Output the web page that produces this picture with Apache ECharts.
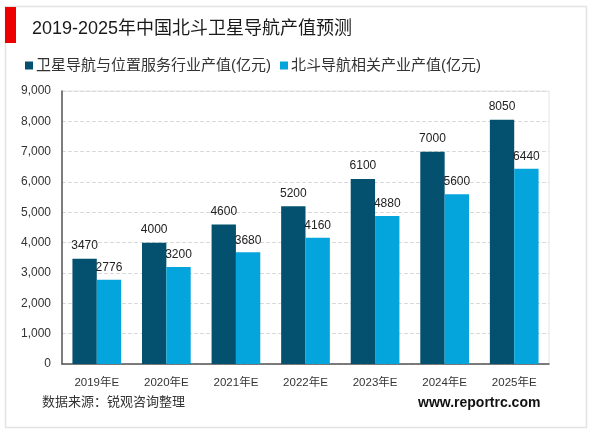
<!DOCTYPE html>
<html>
<head>
<meta charset="utf-8">
<style>html,body{margin:0;padding:0;background:#fff}#chart{width:600px;height:433px}</style>
<script src="https://cdn.jsdelivr.net/npm/echarts@6/dist/echarts.min.js"></script>
</head>
<body>
<div id="chart"></div>
<script>
var categories = ['2019年E', '2020年E', '2021年E', '2022年E', '2023年E', '2024年E', '2025年E'];
var navOutput = [3470, 4000, 4600, 5200, 6100, 7000, 8050];
var beidouOutput = [2776, 3200, 3680, 4160, 4880, 5600, 6440];
var seriesNames = ['卫星导航与位置服务行业产值(亿元)', '北斗导航相关产业产值(亿元)'];

var font = '"Liberation Sans","Noto Sans CJK SC",sans-serif';
var myChart = echarts.init(document.getElementById('chart'));

var option = {
	animation: false,
	backgroundColor: '#fff',
	color: ['#03516f', '#04a5dc'],
	textStyle: {fontFamily: font},
	title: {
		text: '2019-2025年中国北斗卫星导航产值预测',
		left: 27,
		top: 15,
		textStyle: {fontSize: 18, fontWeight: 'normal', color: '#1a1a1a', fontFamily: font}
	},
	legend: {
		left: 20,
		top: 53,
		itemWidth: 8,
		itemHeight: 8,
		itemGap: 9,
		icon: 'rect',
		textStyle: {fontSize: 15, color: '#333', padding: [0, 0, 0, -2], fontFamily: font}
	},
	grid: {left: 62, right: 51, top: 91, bottom: 69, show: true, borderColor: '#e4e4e4', borderWidth: 1},
	xAxis: {
		type: 'category',
		data: categories,
		axisLine: {lineStyle: {color: '#555', width: 1.5}},
		axisTick: {show: false},
		axisLabel: {fontSize: 11.5, color: '#333', margin: 13, fontFamily: font}
	},
	yAxis: {
		type: 'value',
		min: 0,
		max: 9000,
		interval: 1000,
		axisLine: {show: true, lineStyle: {color: '#555', width: 1.5}},
		axisTick: {show: false},
		axisLabel: {fontSize: 12, color: '#333', margin: 11, fontFamily: font},
		splitLine: {lineStyle: {color: '#d9d9d9', type: 'dashed'}}
	},
	series: [
		{name: seriesNames[0], type: 'bar', data: navOutput, barWidth: '35%', barGap: '0%',
			label: {show: true, position: 'top', fontSize: 12, color: '#222', distance: 7, fontFamily: font}},
		{name: seriesNames[1], type: 'bar', data: beidouOutput, barWidth: '35%',
			label: {show: true, position: 'top', fontSize: 12, color: '#222', distance: 6, fontFamily: font}}
	],
	graphic: [
		{type: 'rect', z: -1, shape: {x: 5.5, y: 6.5, width: 581, height: 421}, style: {fill: 'none', stroke: '#e3e3e3', lineWidth: 1.5}},
		{type: 'rect', z: 5, shape: {x: 5, y: 7, width: 11, height: 36}, style: {fill: '#ee0000'}},
		{type: 'text', x: 42, y: 396, style: {text: '数据来源：锐观咨询整理', font: '13px ' + font, fill: '#333'}},
		{type: 'text', x: 418, y: 396, style: {text: 'www.reportrc.com', font: 'bold 14px ' + font, fill: '#111'}}
	]
};

myChart.setOption(option);
</script>
</body>
</html>
